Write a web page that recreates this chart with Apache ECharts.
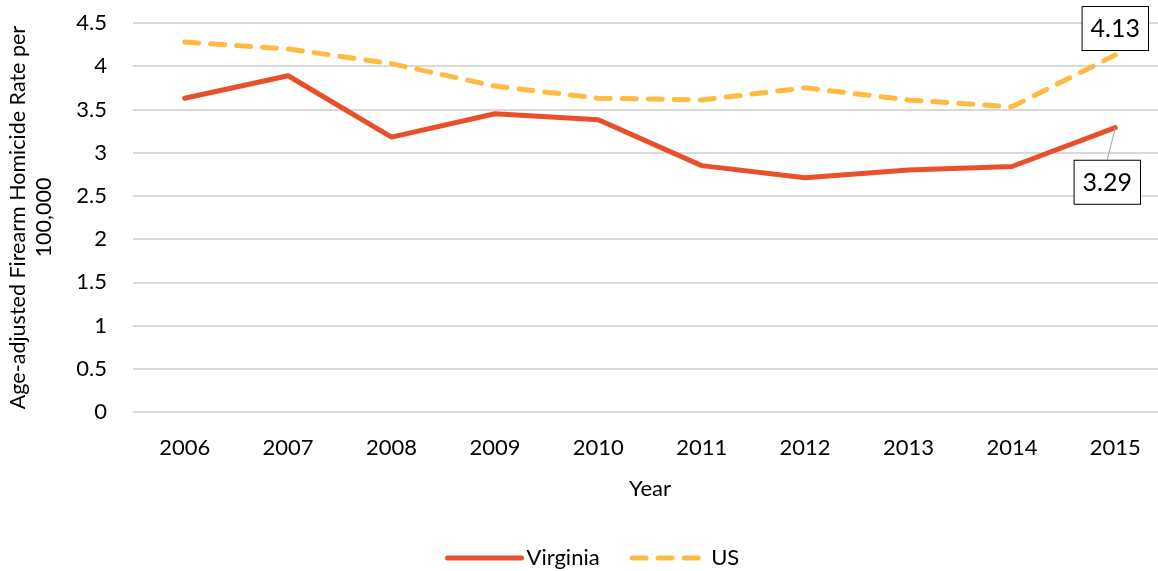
<!DOCTYPE html>
<html>
<head>
<meta charset="utf-8">
<script src="https://cdn.jsdelivr.net/npm/echarts@6/dist/echarts.min.js"></script>
<style>
  html, body { margin: 0; padding: 0; background: #fff; }
  #chart { width: 1158px; height: 571px; }
</style>
</head>
<body>
<div id="chart"></div>
<script>
var years = ['2006', '2007', '2008', '2009', '2010', '2011', '2012', '2013', '2014', '2015'];
var virginia = [3.63, 3.89, 3.18, 3.45, 3.38, 2.85, 2.71, 2.80, 2.84, 3.29];
var us = [4.28, 4.20, 4.03, 3.77, 3.63, 3.61, 3.75, 3.61, 3.53, 4.13];

var font = 'Lato, "Open Sans", sans-serif';

// label only on the last point
function withLastLabel(arr, labelOpt, showLine) {
    return arr.map(function (v, i) {
        if (i !== arr.length - 1) return v;
        return { value: v, label: labelOpt, labelLine: { show: showLine, lineStyle: { color: '#a6a6a6', width: 1 } } };
    });
}

var boxLabel = {
    show: true,
    color: '#000',
    fontSize: 25,
    fontFamily: font,
    backgroundColor: '#fff',
    borderColor: '#000',
    borderWidth: 1,
    padding: [10, 8, 8, 8]
};

var chart = echarts.init(document.getElementById('chart'));
chart.setOption({
    animation: false,
    grid: { left: 133, right: -9, top: 23, bottom: 159, containLabel: false, outerBoundsMode: 'none' },
    legend: {
        bottom: -3,
        left: 440,
        itemWidth: 74,
        itemHeight: 12,
        itemGap: 30,
        textStyle: { fontSize: 22, fontFamily: font, color: '#000' },
        lineStyle: { width: 5 },
        itemStyle: { opacity: 0 },
        data: ['Virginia', 'US']
    },
    xAxis: {
        type: 'category',
        data: years,
        name: 'Year',
        nameLocation: 'middle',
        nameGap: 66,
        nameTextStyle: { fontSize: 22, fontFamily: font, color: '#000' },
        axisLine: { show: false },
        axisTick: { show: false },
        axisLabel: { fontSize: 22, fontFamily: font, color: '#000', margin: 25 }
    },
    yAxis: {
        type: 'value',
        min: 0,
        max: 4.5,
        interval: 0.5,
        name: 'Age-adjusted Firearm Homicide Rate per\n100,000',
        nameLocation: 'middle',
        nameGap: 76,
        nameTextStyle: { fontSize: 21.5, fontFamily: font, color: '#000', lineHeight: 26 },
        axisLabel: { fontSize: 22, fontFamily: font, color: '#000', margin: 26 },
        splitLine: { lineStyle: { color: '#d9d9d9', width: 2 } }
    },
    series: [
        {
            name: 'Virginia',
            type: 'line',
            data: withLastLabel(virginia, Object.assign({ position: 'bottom' }, boxLabel), true),
            symbol: 'circle',
            symbolSize: 0.1,
            itemStyle: { color: '#e9502a' },
            lineStyle: { color: '#e9502a', width: 5, cap: 'round', join: 'round' },
            labelLayout: function (p) {
                return { dx: -8, dy: 28 };
            }
        },
        {
            name: 'US',
            type: 'line',
            data: withLastLabel(us, Object.assign({ position: 'top', distance: 5 }, boxLabel), false),
            symbol: 'circle',
            symbolSize: 0.1,
            itemStyle: { color: '#ffba40' },
            lineStyle: { color: '#ffba40', width: 5, type: [14, 12], cap: 'round', join: 'round' }
        }
    ]
});
</script>
</body>
</html>
